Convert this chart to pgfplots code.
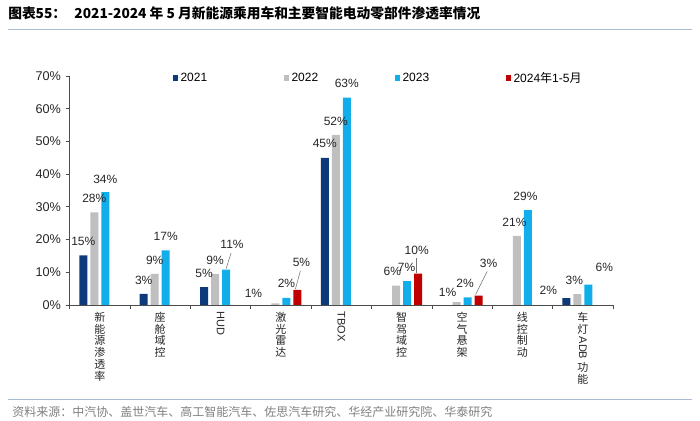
\documentclass[border=0pt]{standalone}
\usepackage{fontspec}
\setmainfont{Liberation Sans}
\newfontfamily\cjk{Noto Sans CJK SC}
\usepackage{graphicx}
\usepackage{pgfplots}
\pgfplotsset{compat=1.18}
\definecolor{cnavy}{HTML}{0F3A7A}
\definecolor{cgray}{HTML}{BFBFBF}
\definecolor{ccyan}{HTML}{12AEEB}
\definecolor{cred}{HTML}{C00000}
\definecolor{rulec}{HTML}{A9BBD3}
\newcommand\lb[5]{\node[font=\fontsize{9}{10}\selectfont, text=black!85, inner sep=0pt, xshift=#3, yshift=#4] at (axis cs:#1,#2) {#5};}
\begin{document}
\begin{tikzpicture}
\path[use as bounding box] (0,0) rectangle (525pt,315.75pt);
\node[anchor=west, inner sep=0pt] at (6pt,306pt) {\cjk\bfseries\fontsize{10.3}{12}\selectfont 图表55：\hspace{0.6em}2021-2024 年 5 月新能源乘用车和主要智能电动零部件渗透率情况};
\draw[rulec, line width=1.2pt] (6pt,293.6pt) -- (519pt,293.6pt);
\draw[rulec, line width=0.8pt] (6pt,16.3pt) -- (519pt,16.3pt);
\node[anchor=west, inner sep=0pt, text=black!50] at (9pt,7pt) {\cjk\fontsize{9}{10}\selectfont 资料来源：中汽协、盖世汽车、高工智能汽车、佐思汽车研究、华经产业研究院、华泰研究};
\begin{axis}[
  at={(52.2pt,87pt)}, anchor=south west, scale only axis,
  width=407.6pt, height=171.75pt,
  xmin=-0.5, xmax=8.5, ymin=0, ymax=70,
  clip=false,
  axis lines*=left,
  axis line style={black!70, line width=0.6pt},
  ybar, bar width=6pt,
  xtick={-0.5,0.5,...,8.5}, xticklabels={},
  extra x ticks={0,1,2,3,4,5,6,7,8},
  extra x tick labels={{新\\能\\源\\渗\\透\\率},{座\\舱\\域\\控},{\rotatebox{-90}{\rmfamily HUD}},{激\\光\\雷\\达},{\rotatebox{-90}{\rmfamily TBOX}},{智\\驾\\域\\控},{空\\气\\悬\\架},{线\\控\\制\\动},{车\\灯\\\raisebox{6.2pt}{\rotatebox{-90}{\rmfamily ADB}}\\[1.2pt]功\\能}},
  extra x tick style={major tick length=0pt, tick label style={anchor=north, align=center, inner sep=0pt, yshift=-5pt, font=\cjk\fontsize{8.25}{8.9}\selectfont, text=black!85}},
  ytick={0,10,...,70},
  yticklabel={\pgfmathprintnumber{\tick}\%},
  /pgf/number format/assume math mode=true,
  y tick label style={font=\fontsize{9.5}{10}\selectfont, text=black!85},
  tick align=outside, major tick length=3pt,
  tick style={black!70, line width=0.6pt},
  legend columns=4,
  legend style={at={(0.1894,0.9913)}, anchor=west, draw=none, fill=none, inner sep=0pt, outer sep=0pt, column sep=0pt, font=\fontsize{9}{10}\selectfont, nodes={inner sep=0pt}},
  legend image code/.code={\fill[#1] (0pt,-1.9pt) rectangle (3.8pt,1.9pt); \path (0pt,0pt) -- (6pt,0pt);},
]
\addplot[fill=cnavy, draw=none, bar shift=-12.375pt] coordinates {(0,15.2) (1,3.4) (2,5.5) (4,45) (8,2.1)};
\addlegendentry{\makebox[77.25pt][l]{2021}}
\addplot[fill=cgray, draw=none, bar shift=-4.125pt] coordinates {(0,28.3) (1,9.5) (2,9.5) (3,0.5) (4,52) (5,5.9) (6,0.9) (7,21.1) (8,3.3)};
\addlegendentry{\makebox[77.25pt][l]{2022}}
\addplot[fill=ccyan, draw=none, bar shift=4.125pt] coordinates {(0,34.5) (1,16.7) (2,10.8) (3,2.2) (4,63.4) (5,7.3) (6,2.3) (7,29.0) (8,6.2)};
\addlegendentry{\makebox[77.25pt][l]{2023}}
\addplot[fill=cred, draw=none, bar shift=12.375pt] coordinates {(3,4.6) (5,9.6) (6,2.9)};
\addlegendentry{2024{\cjk 年}1-5{\cjk 月}}
% labels
\lb{0}{15.2}{-12.375pt}{10.5pt}{15\%}
\lb{0}{28.3}{-4.125pt}{10.5pt}{28\%}
\lb{0}{34.5}{4.125pt}{9.75pt}{34\%}
\lb{1}{3.4}{-12.375pt}{10.5pt}{3\%}
\lb{1}{9.5}{-4.125pt}{10.5pt}{9\%}
\lb{1}{16.7}{4.125pt}{10.5pt}{17\%}
\lb{2}{5.5}{-12.375pt}{10.5pt}{5\%}
\lb{2}{9.5}{-4.125pt}{10.5pt}{9\%}
\lb{2}{10.8}{8.625pt}{18.75pt}{11\%}
\lb{3}{0.5}{-20.625pt}{7.5pt}{1\%}
\lb{3}{2.2}{4.125pt}{10.5pt}{2\%}
\lb{3}{4.6}{15.375pt}{21pt}{5\%}
\lb{4}{45}{-12.375pt}{10.5pt}{45\%}
\lb{4}{52}{-4.125pt}{10.5pt}{52\%}
\lb{4}{63.4}{4.125pt}{10.5pt}{63\%}
\lb{5}{5.9}{-7pt}{10.5pt}{6\%}
\lb{5}{7.3}{3.6pt}{10.5pt}{7\%}
\lb{5}{9.6}{11.25pt}{17.25pt}{10\%}
\lb{6}{0.9}{-10.875pt}{7.5pt}{1\%}
\lb{6}{2.3}{2.25pt}{10.5pt}{2\%}
\lb{6}{2.9}{19.875pt}{24pt}{3\%}
\lb{7}{21.1}{-6pt}{10.5pt}{21\%}
\lb{7}{29.0}{2.25pt}{10.5pt}{29\%}
\lb{8}{2.1}{-25.875pt}{6pt}{2\%}
\lb{8}{3.3}{-6.375pt}{10.5pt}{3\%}
\lb{8}{6.2}{16.125pt}{12.75pt}{6\%}
% leader lines
\draw[black!55, line width=0.4pt] ([xshift=4.125pt,yshift=0.75pt]axis cs:2,10.8) -- ([xshift=7.9pt,yshift=12.5pt]axis cs:2,10.8);
\draw[black!55, line width=0.4pt] ([xshift=10.875pt,yshift=0.75pt]axis cs:3,4.6) -- ([xshift=14.6pt,yshift=14.5pt]axis cs:3,4.6);
\draw[black!55, line width=0.4pt] ([xshift=11.25pt,yshift=0.75pt]axis cs:5,9.6) -- ([xshift=11.25pt,yshift=11.5pt]axis cs:5,9.6);
\draw[black!55, line width=0.4pt] ([xshift=10.125pt,yshift=0.75pt]axis cs:6,2.9) -- ([xshift=18.75pt,yshift=18pt]axis cs:6,2.9);
\end{axis}
\end{tikzpicture}
\end{document}
